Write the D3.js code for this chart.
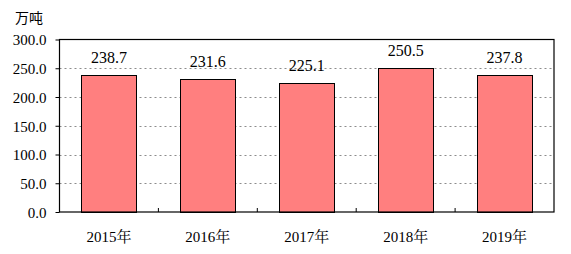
<!DOCTYPE html>
<html>
<head>
<meta charset="utf-8">
<script src="https://cdn.jsdelivr.net/npm/d3@7"></script>
<style>
  body { margin: 0; background: #fff; }
</style>
</head>
<body>
<div id="chart"></div>
<script>
const years = ['2015年', '2016年', '2017年', '2018年', '2019年'];
const values = [238.7, 231.6, 225.1, 250.5, 237.8];
const yTicks = [0, 50, 100, 150, 200, 250, 300];
const unitLabel = '万吨';

const width = 571, height = 254;
const margin = { top: 39.5, right: 17, bottom: 42, left: 59.5 };
const serif = '"Liberation Serif", "Times New Roman", Times, "Noto Serif CJK SC", serif';

const svg = d3.select('#chart').append('svg')
    .attr('width', width)
    .attr('height', height);

const x = d3.scaleBand()
    .domain(years)
    .range([margin.left, width - margin.right])
    .paddingInner(0.444)
    .paddingOuter(0.222);

const y = d3.scaleLinear()
    .domain([0, 300])
    .range([height - margin.bottom, margin.top]);

// grid lines
svg.append('g')
  .selectAll('line')
  .data(yTicks.filter(d => d > 0 && d < 300))
  .join('line')
    .attr('x1', margin.left)
    .attr('x2', width - margin.right)
    .attr('y1', d => Math.round(y(d)) + 0.5)
    .attr('y2', d => Math.round(y(d)) + 0.5)
    .attr('stroke', '#8c8c8c')
    .attr('stroke-dasharray', '2,3');

// bars
svg.append('g')
  .selectAll('rect')
  .data(values)
  .join('rect')
    .attr('x', (d, i) => Math.round(x(years[i])) + 0.5)
    .attr('y', d => Math.round(y(d)) + 0.5)
    .attr('width', Math.round(x.bandwidth()))
    .attr('height', d => y(0) - Math.round(y(d)))
    .attr('fill', '#ff7f7f')
    .attr('stroke', '#000')
    .attr('stroke-width', 1);

// value labels
svg.append('g')
  .selectAll('text')
  .data(values)
  .join('text')
    .attr('x', (d, i) => x(years[i]) + x.bandwidth() / 2)
    .attr('y', d => y(d) - 12)
    .attr('text-anchor', 'middle')
    .style('font-family', serif)
    .style('font-size', '16px')
    .text(d => d.toFixed(1));

// plot frame
svg.append('rect')
    .attr('x', margin.left)
    .attr('y', margin.top)
    .attr('width', width - margin.right - margin.left)
    .attr('height', y(0) - margin.top)
    .attr('fill', 'none')
    .attr('stroke', '#000')
    .attr('stroke-width', 1.2);

// y axis
const yAxis = svg.append('g')
    .attr('transform', `translate(${margin.left},0)`)
    .call(d3.axisLeft(y).tickValues(yTicks).tickSize(4).tickPadding(9)
      .tickFormat(d => d.toFixed(1)));
yAxis.select('.domain').remove();
yAxis.selectAll('text')
    .style('font-family', serif)
    .style('font-size', '15px')
    .attr('fill', '#000')
    .attr('dy', '0.35em');
yAxis.selectAll('line').attr('stroke', '#000');

// x axis inner ticks at category boundaries
svg.append('g')
  .selectAll('line')
  .data(d3.range(1, years.length))
  .join('line')
    .attr('x1', i => margin.left + i * (width - margin.right - margin.left) / years.length)
    .attr('x2', i => margin.left + i * (width - margin.right - margin.left) / years.length)
    .attr('y1', y(0))
    .attr('y2', y(0) - 4)
    .attr('stroke', '#000');

// x labels
svg.append('g')
  .selectAll('text')
  .data(years)
  .join('text')
    .attr('x', d => x(d) + x.bandwidth() / 2)
    .attr('y', 242)
    .attr('text-anchor', 'middle')
    .style('font-family', serif)
    .style('font-size', '15px')
    .text(d => d);

// unit
svg.append('text')
    .attr('x', 15)
    .attr('y', 23)
    .style('font-size', '14px')
    .style('font-family', '"Noto Sans CJK SC", sans-serif')
    .text(unitLabel);
</script>
</body>
</html>
